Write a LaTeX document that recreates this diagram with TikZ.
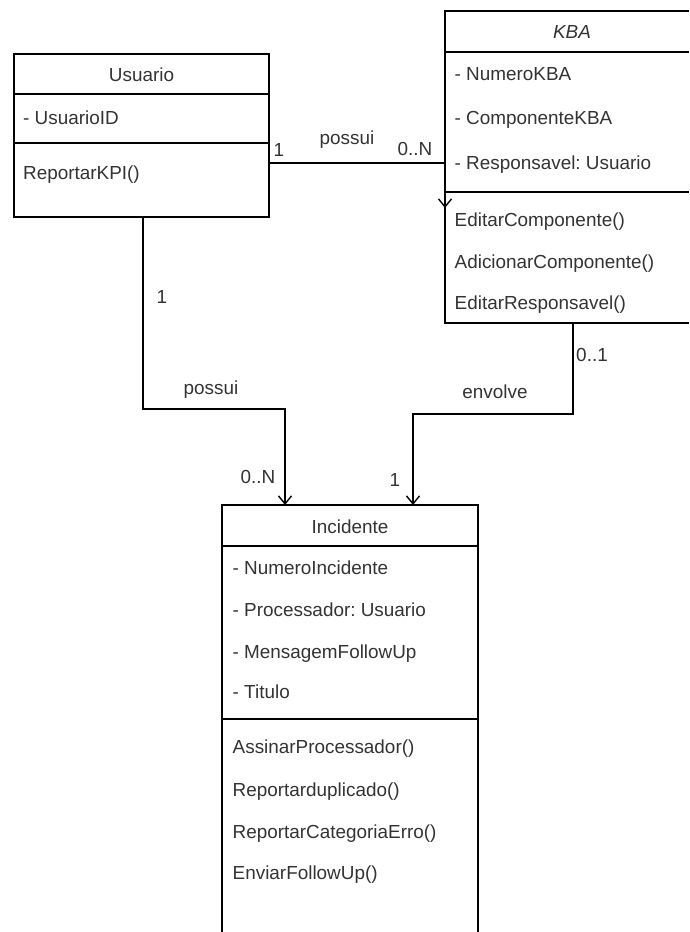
\documentclass[tikz,border=0pt]{standalone}
\usepackage{fontspec}
\setmainfont{Liberation Sans}
\usetikzlibrary{arrows.meta}
\definecolor{txt}{HTML}{333333}
\frenchspacing
\begin{document}
\begin{tikzpicture}[x=1pt,y=-1pt,
  line width=1.4pt,
  frame/.style={draw=black, line width=1.4pt},
  box/.style={draw=black, line width=1.4pt, anchor=north west, inner sep=0pt, outer sep=0pt},
  item/.style={anchor=base west, yshift=-6.7pt, inner sep=0pt, font=\fontsize{18.9}{22}\selectfont, text=txt},
  ttl/.style={anchor=base, yshift=-6.7pt, inner sep=0pt, font=\fontsize{18.9}{22}\selectfont, text=txt},
  lbl/.style={anchor=base, yshift=-6pt, inner sep=0pt, font=\fontsize{18.9}{22}\selectfont, text=txt},
  conn/.style={draw=black, line width=1.4pt, -{Straight Barb[length=8pt,width=13pt,line width=1.4pt]}},
  plain/.style={draw=black, line width=1.4pt}]
\useasboundingbox (0,0) rectangle (689,932);

% ---------- Usuario ----------
\node[box, minimum width=255pt, minimum height=163pt] (usuario) at (14,54) {};
\draw[frame] (14,94) -- (269,94);
\draw[frame] (14,143) -- (269,143);
\node[ttl] (uT) at (141.5,75) {Usuario};
\node[item] (u1) at (22.5,118) {- UsuarioID};
\node[item] (u2) at (22.5,173) {ReportarKPI()};

% ---------- KBA (right side cut off) ----------
\draw[frame] (689,11) -- (445,11) -- (445,323) -- (689,323);
\draw[frame] (445,52) -- (689,52);
\draw[frame] (445,192) -- (689,192);
\coordinate (kbaL) at (445,163);
\coordinate (kbaB) at (573,323);
\node[ttl, font=\fontsize{18.9}{22}\selectfont\itshape] (kT) at (572,32) {KBA};
\node[item] (k1) at (454,74) {- NumeroKBA};
\node[item] (k2) at (454,118) {- ComponenteKBA};
\node[item] (k3) at (454,163) {- Responsavel: Usuario};
\node[item] (k4) at (454,220) {EditarComponente()};
\node[item] (k5) at (454,262) {AdicionarComponente()};
\node[item] (k6) at (454,303) {EditarResponsavel()};

% ---------- Incidente (bottom cut off) ----------
\draw[frame] (222,932) -- (222,505) -- (478,505) -- (478,932);
\draw[frame] (222,546) -- (478,546);
\draw[frame] (222,719) -- (478,719);
\coordinate (incA) at (285,505);
\coordinate (incB) at (413,505);
\node[ttl] (iT) at (350,527) {Incidente};
\node[item] (i1) at (232,568) {- NumeroIncidente};
\node[item] (i2) at (232,610) {- Processador: Usuario};
\node[item] (i3) at (232,652) {- MensagemFollowUp};
\node[item] (i4) at (232,692) {- Titulo};
\node[item] (i5) at (232,747) {AssinarProcessador()};
\node[item] (i6) at (232,790) {Reportarduplicado()};
\node[item] (i7) at (232,832) {ReportarCategoriaErro()};
\node[item] (i8) at (232,873) {EnviarFollowUp()};

% ---------- connectors ----------
\coordinate (uR) at (269,163);
\coordinate (uB) at (143,217);
\coordinate (kbaArrow) at (445,208);
\draw[conn] (uR) -- (kbaL) -- (kbaArrow);
\draw[conn] (uB) -- (143,409) -| (incA);
\draw[conn] (kbaB) -- (573,414) -| (incB);

% ---------- labels ----------
\node[lbl] (l1) at (279,150) {1};
\node[lbl] (l2) at (347,138) {possui};
\node[lbl] (l3) at (415,149) {0..N};
\node[lbl] (l4) at (162,297) {1};
\node[lbl] (l5) at (211,388) {possui};
\node[lbl] (l6) at (258,477) {0..N};
\node[lbl] (l7) at (395,480) {1};
\node[lbl] (l8) at (495,392) {envolve};
\node[lbl] (l9) at (592,355) {0..1};
\end{tikzpicture}
\end{document}
